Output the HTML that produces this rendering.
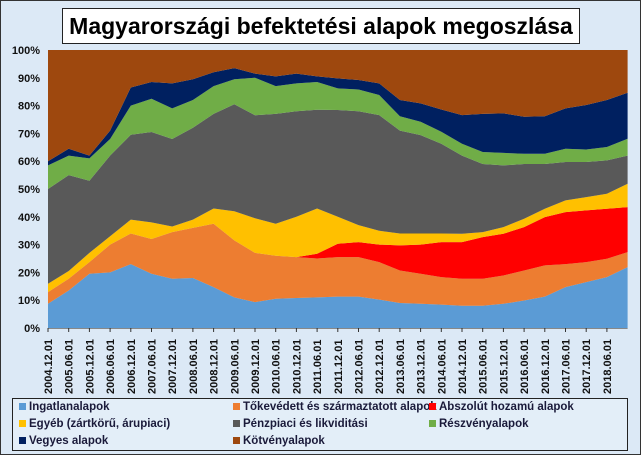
<!DOCTYPE html>
<html><head><meta charset="utf-8">
<style>
html,body{margin:0;padding:0;}
body{width:641px;height:455px;overflow:hidden;background:#dbe8f5;font-family:"Liberation Sans",sans-serif;}
#frame{position:absolute;left:0;top:0;width:639px;height:453px;border:1px solid #333;background:#dce9f6;}
#title{position:absolute;left:62px;top:8px;width:516px;height:34px;background:#fff;border:1px solid #222;font-weight:bold;font-size:23px;text-align:center;line-height:34px;color:#000;}
#legend{position:absolute;left:12px;top:398px;width:614px;height:51px;border:1px solid #222;background:#e3eef8;}
.li{position:absolute;font-size:11.5px;font-weight:bold;color:#1a1a3a;white-space:nowrap;}
.sw{display:inline-block;width:7px;height:7px;margin-right:3px;}
</style></head>
<body>
<div id="frame"></div>
<div id="title">Magyarországi befektetési alapok megoszlása</div>
<svg id="chart" width="641" height="455" style="position:absolute;left:0;top:0"></svg>
<div id="legend">
<div class="li" style="left:6px;top:2px"><span class="sw" style="background:#5b9bd5"></span>Ingatlanalapok</div>
<div class="li" style="left:220px;top:2px"><span class="sw" style="background:#ed7d31"></span>Tőkevédett és származtatott alapok</div>
<div class="li" style="left:416px;top:2px"><span class="sw" style="background:#ff0000"></span>Abszolút hozamú alapok</div>
<div class="li" style="left:6px;top:19px"><span class="sw" style="background:#ffc000"></span>Egyéb (zártkörű, árupiaci)</div>
<div class="li" style="left:220px;top:19px"><span class="sw" style="background:#595959"></span>Pénzpiaci és likviditási</div>
<div class="li" style="left:416px;top:19px"><span class="sw" style="background:#70ad47"></span>Részvényalapok</div>
<div class="li" style="left:6px;top:36px"><span class="sw" style="background:#002060"></span>Vegyes alapok</div>
<div class="li" style="left:220px;top:36px"><span class="sw" style="background:#9e480e"></span>Kötvényalapok</div>
</div>
<script>
const tickLabels=["2004.12.01","2005.06.01","2005.12.01","2006.06.01","2006.12.01","2007.06.01","2007.12.01","2008.06.01","2008.12.01","2009.06.01","2009.12.01","2010.06.01","2010.12.01","2011.06.01","2011.12.01","2012.06.01","2012.12.01","2013.06.01","2013.12.01","2014.06.01","2014.12.01","2015.06.01","2015.12.01","2016.06.01","2016.12.01","2017.06.01","2017.12.01","2018.06.01"];
const yTicks=[0,10,20,30,40,50,60,70,80,90,100];
const ingatlan=[8.7,13.5,19.5,20,23,19.5,17.7,18,14.7,11,9.3,10.5,10.8,11,11.3,11.3,10.2,9,8.7,8.4,8,8,8.7,9.9,11.3,14.7,16.5,18.3,21.9];
const tokevedett=[4.2,4.2,4.2,10,11,12.5,16.8,18,22.8,20.5,17.7,15.5,14.7,14,14.2,14.2,13.5,11.7,10.8,9.9,9.7,9.7,10.2,10.8,11.2,8.3,7.2,6.6,5.4];
const abszolut=[0,0,0,0,0,0,0,0,0,0,0,0,0,1.7,4.8,5.4,6.3,9,10.5,12.6,13.2,15,15,15.6,17.4,18.7,18.6,18,16.2];
const egyeb=[3,2.8,3.3,3,5,6,2,3,5.5,10.5,12.5,11.5,14.5,16.3,9.7,6.1,5,4.3,4,3.1,3,1.8,2.4,3,3,4.2,4.8,5.4,8.4];
const penzpiaci=[34.1,34.5,26,29,30.5,32.5,31.5,33,34,38.5,37,39.5,38,35.5,38.4,41,41.6,37,35.4,32.3,28.1,24.5,22.2,19.7,16.1,13.8,12.6,12,10.1];
const reszveny=[8.5,7,8,6,10.5,12,11,10,10,9,13.5,10,10,10,7.8,7.8,7.2,5.2,4.8,4.3,4.3,4.3,4.5,3.7,3.7,4.8,4.5,4.8,6.1];
const vegyes=[1.5,2.5,1,3,6.5,6,9,7.5,5,4,1.5,3.5,3.5,2,3.6,3.4,4.2,5.8,6.6,8,10.3,13.7,14.2,13.3,13.5,14.5,16,16.9,16.5];
const kotveny=[40,35.5,38,29,13.5,11.5,12,10.5,8,6.5,8.5,9.5,8.5,9.5,10.2,10.8,12,18,19.2,21.4,23.4,23,22.8,24,23.8,21,19.8,18,15.4];

const series=[ingatlan,tokevedett,abszolut,egyeb,penzpiaci,reszveny,vegyes,kotveny];
const names=['area-ingatlan','area-tokevedett','area-abszolut','area-egyeb','area-penzpiaci','area-reszveny','area-vegyes','area-kotveny'];
const colors=['#5b9bd5','#ed7d31','#ff0000','#ffc000','#595959','#70ad47','#002060','#9e480e'];
const NS='http://www.w3.org/2000/svg';
const svg=document.getElementById('chart');
const X0=48,STEP=20.7,Y0=328,Y1=50;
const n=ingatlan.length;
function xs(i){return X0+STEP*i;}
function ys(v){return Y0-(Y0-Y1)*v/100;}
const totals=[];for(let i=0;i<n;i++){let t=0;series.forEach(s=>t+=s[i]);totals.push(t);}
let base=new Array(n).fill(0);
series.forEach((s,k)=>{
  const top=base.map((b,i)=>b+s[i]/totals[i]*100);
  let d='';
  for(let i=0;i<n;i++)d+=(i?'L':'M')+xs(i).toFixed(1)+','+ys(top[i]).toFixed(1);
  for(let i=n-1;i>=0;i--)d+='L'+xs(i).toFixed(1)+','+ys(base[i]).toFixed(1);
  const p=document.createElementNS(NS,'path');
  p.setAttribute('d',d+'Z');p.setAttribute('fill',colors[k]);
  
  
  svg.appendChild(p);
  base=top;
});
// axis lines
const ax=document.createElementNS(NS,'line');
ax.setAttribute('x1',X0);ax.setAttribute('x2',xs(n-1));ax.setAttribute('y1',Y0+0.5);ax.setAttribute('y2',Y0+0.5);ax.setAttribute('stroke','#888');


svg.appendChild(ax);
yTicks.forEach(v=>{
  const t=document.createElementNS(NS,'text');
  t.setAttribute('x',40);t.setAttribute('y',ys(v)+4);t.setAttribute('text-anchor','end');
  t.setAttribute('font-size','11');t.setAttribute('font-weight','bold');t.setAttribute('fill','#111');
  t.setAttribute('font-family','Liberation Sans, sans-serif');
  t.textContent=v+'%';
  
  
  svg.appendChild(t);
});
tickLabels.forEach((lab,i)=>{
  const x=xs(i);
  const tk=document.createElementNS(NS,'line');
  tk.setAttribute('x1',x);tk.setAttribute('x2',x);tk.setAttribute('y1',Y0);tk.setAttribute('y2',Y0+4);tk.setAttribute('stroke','#333');
  
  
  svg.appendChild(tk);
  const t=document.createElementNS(NS,'text');
  t.setAttribute('transform','translate('+(x+4)+',394) rotate(-90)');
  t.setAttribute('font-size','11');t.setAttribute('font-weight','bold');t.setAttribute('fill','#111');
  t.setAttribute('font-family','Liberation Sans, sans-serif');
  t.textContent=lab;
  
  
  svg.appendChild(t);
});
</script>
</body></html>
